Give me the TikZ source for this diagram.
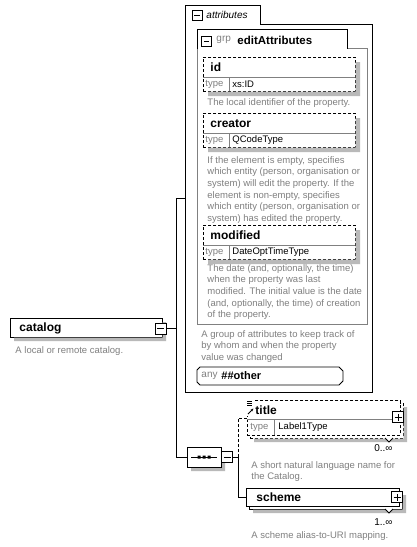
\documentclass[tikz,border=0pt]{standalone}
\usepackage{fontspec}
\setmainfont{Liberation Sans}
\usetikzlibrary{positioning,calc,shapes.misc,arrows.meta}
\definecolor{descgray}{RGB}{128,128,128}
\definecolor{shadegray}{RGB}{185,185,185}
\definecolor{framegray}{RGB}{128,128,128}

\begin{document}
\begin{tikzpicture}[
  x=1pt, y=-1pt, line width=0.9pt,
  shadefill/.style={fill=shadegray, draw=none},
  elem/.style={draw, fill=white, rectangle, anchor=north west, inner sep=0pt},
  dashline/.style={dash pattern=on 3pt off 2pt},
  attr/.style={elem, dashline, minimum width=152pt, minimum height=34pt},
  nm/.style={font=\bfseries\fontsize{12}{14}\selectfont, anchor=west, inner sep=0pt},
  desc/.style={font=\fontsize{9.5}{11.6}\selectfont, text=descgray, anchor=north west, align=left, inner sep=0pt},
  typelbl/.style={font=\fontsize{9.5}{11}\selectfont, text=descgray, anchor=west, inner sep=0pt},
  typenm/.style={font=\fontsize{9.5}{11}\selectfont, anchor=west, inner sep=0pt},
  card/.style={font=\fontsize{10}{12}\selectfont, anchor=east, inner sep=0pt},
  minusbox/.style={draw, solid, fill=white, minimum size=11pt, inner sep=0pt,
    path picture={\draw[line width=0.8pt] ([xshift=2pt]path picture bounding box.west) -- ([xshift=-2pt]path picture bounding box.east);}},
  plusbox/.style={draw, solid, fill=white, minimum size=11pt, inner sep=0pt,
    path picture={\draw[line width=0.8pt] ([xshift=2pt]path picture bounding box.west) -- ([xshift=-2pt]path picture bounding box.east);
      \draw[line width=0.8pt] ([yshift=2pt]path picture bounding box.south) -- ([yshift=-2pt]path picture bounding box.north);}},
  octo/.style={chamfered rectangle, chamfered rectangle xsep=5pt, chamfered rectangle ysep=5pt,
    minimum width=34pt, minimum height=20pt, inner sep=0pt}
]
\fill[white] (0,0) rectangle (417,547);
\useasboundingbox (0,0) rectangle (417,547);

% attributes
\node[elem, minimum width=187pt, minimum height=368pt] (attrs) at (185,24) {};
\draw[fill=white] (185,25) -- (185,5) -- (260,5) -- (260,25);
\node[minusbox, minimum size=10pt] (attrsmin) at (197,15.5) {};
\node[font=\itshape\fontsize{10}{12}\selectfont, anchor=west, inner sep=0pt] (attrslbl) at (206,15) {attributes};

% group editAttributes
\node[elem, draw=framegray, minimum width=170pt, minimum height=276pt] (grp) at (197,48) {};
\draw[fill=white] (197,49) -- (197,29) -- (347,29) -- (347,49);
\node[minusbox, minimum size=9.5pt] (grpmin) at (206.5,41.5) {};
\node[typelbl, font=\fontsize{10}{12}\selectfont] (grplbl) at (216,40) {grp};
\node[nm, font=\bfseries\fontsize{11.5}{14}\selectfont] (grpname) at (237,40) {editAttributes};

\node[attr] (id) at (203,57) {};
\fill[shadefill] (355.5,62) rectangle (360,96) (208,91.5) rectangle (360,96);
\draw[framegray] (203,77) -- (355,77) (229,77) -- (229,91);
\node[nm] (idlbl) at (210,67) {id};
\node[typelbl] (idtype) at (205,84) {type};
\node[typenm] (idtypenm) at (232,84) {xs:ID};
\node[desc] (iddesc) at (207,98) {The local identifier of the property.};

\node[attr] (creator) at (203,113) {};
\fill[shadefill] (355.5,118) rectangle (360,152) (208,147.5) rectangle (360,152);
\draw[framegray] (203,133) -- (355,133) (229,133) -- (229,147);
\node[nm] (creatorlbl) at (210,123.5) {creator};
\node[typelbl] (creatortype) at (205,140) {type};
\node[typenm] (creatortypenm) at (232,140) {QCodeType};
\node[desc] (creatordesc) at (207,156) {If the element is empty, specifies\\which entity (person, organisation or\\system) will edit the property. If the\\element is non-empty, specifies\\which entity (person, organisation or\\system) has edited the property.};

\node[attr] (modified) at (203,225) {};
\fill[shadefill] (355.5,230) rectangle (360,264) (208,259.5) rectangle (360,264);
\draw[framegray] (203,245) -- (355,245) (229,245) -- (229,259);
\node[nm] (modifiedlbl) at (210,235.5) {modified};
\node[typelbl] (modifiedtype) at (205,252) {type};
\node[typenm] (modifiedtypenm) at (232,252) {DateOptTimeType};
\node[desc] (modifieddesc) at (207,264) {The date (and, optionally, the time)\\when the property was last\\modified. The initial value is the date\\(and, optionally, the time) of creation\\of the property.};

\node[desc] (grpdesc) at (201,330) {A group of attributes to keep track of\\by whom and when the property\\value was changed};

% any ##other
\draw[fill=white] (200,367) -- (339,367) -- (343,371) -- (343,381) -- (339,385) -- (200,385) -- (197,382) -- (197,370) -- cycle;
\node[typelbl, font=\fontsize{10}{12}\selectfont] (anylbl) at (201,376) {any};
\node[nm, font=\bfseries\fontsize{11}{13}\selectfont] (anyname) at (221,376) {\#\#other};

% catalog
\node[elem, minimum width=152pt, minimum height=19pt] (catalog) at (10,318) {};
\fill[shadefill] (162.5,322) rectangle (166,341) (14,337.5) rectangle (166,341);
\node[nm] (catlbl) at (19,328) {catalog};
\node[minusbox] (catmin) at (160.5,328.5) {};
\node[desc] (catdesc) at (15,346) {A local or remote catalog.};

% sequence
\node[octo, fill=shadegray] (seqshadow) at (208,461) {};
\node[octo, draw, fill=white] (seq) at (204,457) {};
\draw[line width=1pt] (191,457) -- (217,457);
\fill (197.5,455.5) rectangle ++(3,3) (202.5,455.5) rectangle ++(3,3) (207.5,455.5) rectangle ++(3,3);
\node[minusbox, right=0pt of seq] (seqmin) {};

% title
\node[elem, dashline, minimum width=153pt, minimum height=35pt] (titleback) at (250,403) {};
\fill[shadefill] (403.5,407) rectangle (407,442) (254,438.5) rectangle (407,442);
\node[elem, dashline, minimum width=153pt, minimum height=35pt] (title) at (247,400) {};
\draw[framegray] (247,419) -- (393,419) (274,419) -- (274,435);
\node[plusbox] (titleplus) at (398,417) {};
\fill[white] (245,399) rectangle (254,416);
\draw[line width=0.7pt] (247,401.5) -- (252,401.5) (247,403.5) -- (252,403.5) (247,405.5) -- (252,405.5);
\draw[-{Stealth[length=3pt]}, line width=0.8pt] (248,414) -- (253.5,408.5);
\node[nm] (titlelbl) at (255,410) {title};
\node[typelbl] (titletype) at (250,427) {type};
\node[typenm] (titletypenm) at (278,427) {Label1Type};
\draw[fill=white] (385,438) -- (389,442) -- (393,438);
\node[card] (titlecard) at (393,448) {0..∞};
\node[desc] (titledesc) at (251,461) {A short natural language name for\\the Catalog.};

% scheme
\node[elem, minimum width=153pt, minimum height=18pt] (schemeback) at (249,491) {};
\fill[shadefill] (402.5,495) rectangle (406,513) (253,509.5) rectangle (406,513);
\node[elem, minimum width=153pt, minimum height=18pt] (scheme) at (246,488) {};
\node[plusbox] (schemeplus) at (397,497) {};
\node[nm] (schemelbl) at (256,497) {scheme};
\draw[fill=white] (385,509) -- (389,513) -- (393,509);
\node[card] (schemecard) at (393,522) {1..∞};
\node[desc] (schemedesc) at (251,531) {A scheme alias-to-URI mapping.};

% connectors
\coordinate (trunk) at (176,328.5);
\draw (catmin) -- (trunk);
\draw (trunk) |- ([yshift=10pt]attrs.west);
\draw (trunk) |- (seq);
\draw (seqmin.east) -- ++(5,0) coordinate (fork);
\draw[dashline] (fork) |- (title);
\draw (fork) |- (scheme);
\end{tikzpicture}
\end{document}
